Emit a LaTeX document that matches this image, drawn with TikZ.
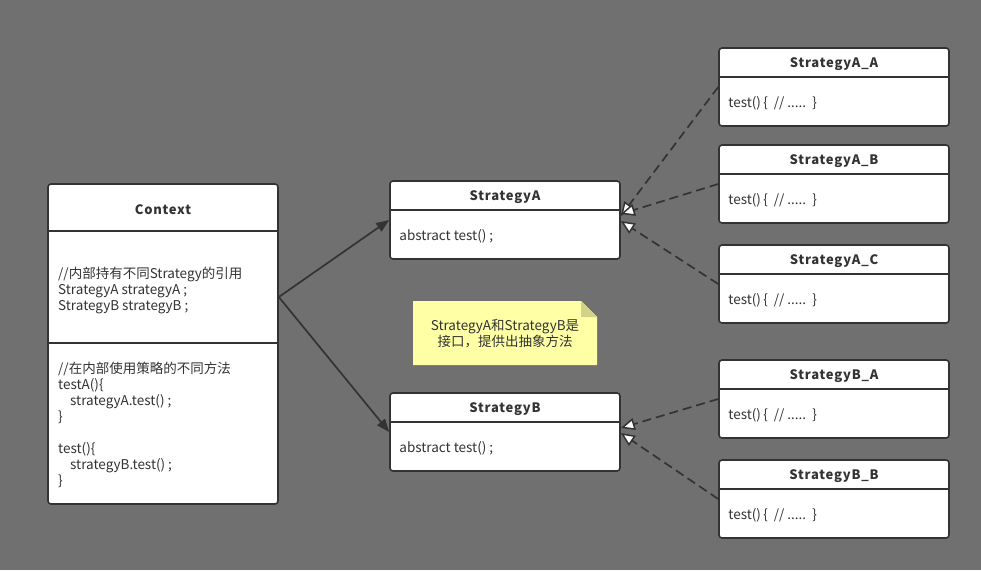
\documentclass[tikz,border=0pt]{standalone}
\usepackage{fontspec}
\setmainfont{Noto Sans CJK SC}
\usetikzlibrary{arrows.meta}

\definecolor{bggray}{HTML}{707070}
\definecolor{linegray}{HTML}{333333}
\definecolor{noteyellow}{HTML}{FFFFA6}
\definecolor{notefold}{HTML}{D2D28A}

\tikzset{
	classbox/.style={draw=linegray, line width=1.6pt, fill=white, rounded corners=3pt,
		minimum width=230pt, inner sep=0pt},
	sepline/.style={draw=linegray, line width=1.6pt},
	classtitle/.style={font=\fontsize{13}{16}\selectfont\bfseries\addfontfeature{LetterSpace=6},
		text=linegray, inner sep=0pt},
	classtext/.style={font=\fontsize{13.5}{16}\selectfont, text=linegray, anchor=west,
		align=left, inner sep=0pt},
	usearrow/.style={draw=linegray, line width=1.7pt, -{Triangle[length=13pt,width=10pt]}},
	implarrow/.style={draw=linegray, line width=1.7pt, dash pattern=on 9pt off 5pt,
		-{Triangle[open,fill=white,line width=1.5pt,length=14pt,width=12pt]}},
}

\begin{document}
\begin{tikzpicture}[x=1pt,y=-1pt]
	\fill[bggray] (0,0) rectangle (981,570);
	\useasboundingbox (0,0) rectangle (981,570);

	% context
	\node[classbox, minimum height=320pt] (ctx) at (163,344) {};
	\draw[sepline] ([yshift=-48pt]ctx.north west) -- ([yshift=-48pt]ctx.north east);
	\draw[sepline] ([yshift=-160pt]ctx.north west) -- ([yshift=-160pt]ctx.north east);
	\node[classtitle] (ctxtitle) at ([yshift=-26pt]ctx.north) {Context};
	\node[classtext] (ctxattr) at (58,290) {//内部持有不同Strategy的引用\\StrategyA strategyA ;\\StrategyB strategyB ;};
	\node[classtext] (ctxops) at (58,425) {//在内部使用策略的不同方法\\testA()\{\\\hspace*{12pt}strategyA.test() ;\\\}\\[16pt]test()\{\\\hspace*{12pt}strategyB.test() ;\\\}};

	% strategies
	\node[classbox, minimum height=78pt] (sa) at (505,220) {};
	\draw[sepline] ([yshift=-30pt]sa.north west) -- ([yshift=-30pt]sa.north east);
	\node[classtitle] (satitle) at ([yshift=-17pt]sa.north) {StrategyA};
	\node[classtext] (satext) at ([xshift=10pt,yshift=-56pt]sa.north west) {abstract test() ;};

	\node[classbox, minimum height=78pt] (sb) at (505,432) {};
	\draw[sepline] ([yshift=-30pt]sb.north west) -- ([yshift=-30pt]sb.north east);
	\node[classtitle] (sbtitle) at ([yshift=-17pt]sb.north) {StrategyB};
	\node[classtext] (sbtext) at ([xshift=10pt,yshift=-56pt]sb.north west) {abstract test() ;};

	% concrete strategies
	\foreach \nm/\lbl/\cy in {aa/StrategyA\_A/87, ab/StrategyA\_B/184, ac/StrategyA\_C/284,
			ba/StrategyB\_A/399, bb/StrategyB\_B/499} {
		\node[classbox, minimum height=78pt] (\nm) at (834,\cy) {};
		\draw[sepline] ([yshift=-30pt]\nm.north west) -- ([yshift=-30pt]\nm.north east);
		\node[classtitle] (\nm title) at ([yshift=-17pt]\nm.north) {\lbl};
		\node[classtext] (\nm text) at ([xshift=10pt,yshift=-56pt]\nm.north west) {test()\,\{\ \ //\ .....\ \ \}};
	}

	% note
	\fill[noteyellow] (413,301) -- (581,301) -- (597,317) -- (597,365) -- (413,365) -- cycle;
	\fill[notefold] (581,301) -- (581,317) -- (597,317) -- cycle;
	\node[classtext, anchor=center, align=center] (note) at (505,334) {StrategyA和StrategyB是\\接口，提供出抽象方法};

	% connectors
	\coordinate (ctxout) at ([yshift=47pt]ctx.east);
	\draw[usearrow] (ctxout) -- (sa.west);
	\draw[usearrow] (ctxout) -- (sb.west);

	\draw[implarrow] (aa.west) -- ([yshift=4pt]sa.east);
	\draw[implarrow] (ab.west) -- ([yshift=6pt]sa.east);
	\draw[implarrow] (ac.west) -- ([yshift=-1pt]sa.east);
	\draw[implarrow] (ba.west) -- ([yshift=4pt]sb.east);
	\draw[implarrow] (bb.west) -- ([yshift=-1pt]sb.east);
\end{tikzpicture}
\end{document}
